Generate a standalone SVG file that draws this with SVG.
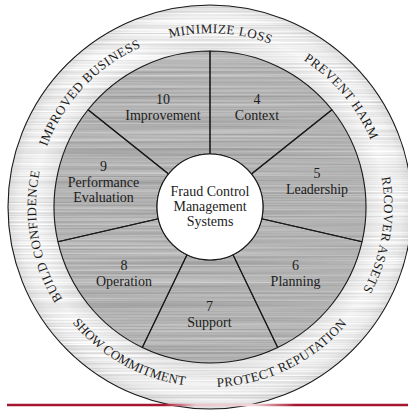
<svg xmlns="http://www.w3.org/2000/svg" xmlns:xlink="http://www.w3.org/1999/xlink" width="408" height="410" viewBox="0 0 408 410">
  <defs>
    <style>
      .edge { fill: none; stroke: #1a1a1a; stroke-width: 1.1; stroke-linejoin: round; }
      .label { font-family: "Liberation Serif", "Times New Roman", serif; font-size: 14px; fill: #1c1c1c; text-anchor: middle; }
      .ring-text { font-family: "Liberation Serif", "Times New Roman", serif; font-size: 13px; fill: #1c1c1c; letter-spacing: 0.5px; }
    </style>
    <!-- fine horizontal brushed-metal streaks laid over a fill -->
    <filter id="brushed" x="-5%" y="-5%" width="110%" height="110%" color-interpolation-filters="sRGB">
      <feTurbulence type="fractalNoise" baseFrequency="0.003 0.55" numOctaves="2" seed="5" result="noise"/>
      <feColorMatrix in="noise" type="matrix" values="1 0 0 0 0  1 0 0 0 0  1 0 0 0 0  0 0 0 0 1" result="grey"/>
      <feComposite in="SourceGraphic" in2="grey" operator="arithmetic" k1="0" k2="1" k3="0.28" k4="-0.14" result="mix"/>
      <feComposite in="mix" in2="SourceAlpha" operator="in"/>
    </filter>
    <radialGradient id="bandFill" gradientUnits="userSpaceOnUse" cx="210" cy="207" r="202">
      <stop offset="0.77" stop-color="#e2e2e2"/>
      <stop offset="0.87" stop-color="#f3f3f3"/>
      <stop offset="0.95" stop-color="#ebebeb"/>
      <stop offset="1" stop-color="#dcdcdc"/>
    </radialGradient>
    <linearGradient id="ruleFade" gradientUnits="userSpaceOnUse" x1="7" y1="0" x2="408" y2="0">
      <stop offset="0" stop-color="#a6162f"/>
      <stop offset="0.39" stop-color="#a6162f"/>
      <stop offset="0.47" stop-color="#ecc4cb"/>
      <stop offset="0.62" stop-color="#f2d4d9"/>
      <stop offset="0.72" stop-color="#a6162f"/>
      <stop offset="1" stop-color="#a6162f"/>
    </linearGradient>
    <!-- arcs carrying the outer ring wording (clockwise along the top, anticlockwise along the bottom) -->
    <path id="arcMinimize" d="M64.9,111.0 A174,174 0 0 1 365.7,129.4"/>
    <path id="arcPrevent" d="M179.8,35.6 A174,174 0 0 1 373.5,266.5"/>
    <path id="arcRecover" d="M320.7,72.7 A174,174 0 0 1 270.9,370.0"/>
    <path id="arcBuild" d="M150.5,370.5 A174,174 0 0 1 98.2,73.7"/>
    <path id="arcImproved" d="M43.2,256.4 A174,174 0 0 1 250.6,37.8"/>
    <path id="arcProtect" d="M109.3,356.2 A180,180 0 0 0 389.6,219.6"/>
    <path id="arcShow" d="M30.0,210.1 A180,180 0 0 0 302.7,361.3"/>
  </defs>

  <rect width="408" height="410" fill="#ffffff"/>

  <!-- outer band -->
  <g id="outer-band">
    <circle cx="210" cy="207" r="202" fill="url(#bandFill)" filter="url(#brushed)"/>
    <circle cx="210" cy="207" r="202" class="edge"/>
  </g>

  <!-- footer rule -->
  <line x1="7" y1="405" x2="408" y2="405" stroke="url(#ruleFade)" stroke-width="2.4"/>

  <!-- textured ring behind the seven segments -->
  <circle id="ring-base" cx="210" cy="207" r="156" fill="#b3b3b3" filter="url(#brushed)"/>

  <g id="node-context">
    <path class="edge" d="M210,154 L210,51 A156,156 0 0 1 331.96,109.73 L251.44,173.95 A53,53 0 0 0 210,154 Z"/>
    <text class="label" x="257" y="104">4</text>
    <text class="label" x="257" y="120">Context</text>
  </g>
  <g id="node-leadership">
    <path class="edge" d="M251.44,173.95 L331.96,109.73 A156,156 0 0 1 362.08,241.71 L261.67,218.79 A53,53 0 0 0 251.44,173.95 Z"/>
    <text class="label" x="317" y="177.5">5</text>
    <text class="label" x="317" y="193.5">Leadership</text>
  </g>
  <g id="node-planning">
    <path class="edge" d="M261.67,218.79 L362.08,241.71 A156,156 0 0 1 277.69,347.56 L233.0,254.75 A53,53 0 0 0 261.67,218.79 Z"/>
    <text class="label" x="295.5" y="270">6</text>
    <text class="label" x="295.5" y="286">Planning</text>
  </g>
  <g id="node-support">
    <path class="edge" d="M233.0,254.75 L277.69,347.56 A156,156 0 0 1 142.31,347.56 L187.0,254.75 A53,53 0 0 0 233.0,254.75 Z"/>
    <text class="label" x="209.5" y="311">7</text>
    <text class="label" x="209.5" y="327">Support</text>
  </g>
  <g id="node-operation">
    <path class="edge" d="M187.0,254.75 L142.31,347.56 A156,156 0 0 1 57.92,241.71 L158.33,218.79 A53,53 0 0 0 187.0,254.75 Z"/>
    <text class="label" x="124" y="269.5">8</text>
    <text class="label" x="124" y="285.5">Operation</text>
  </g>
  <g id="node-performance">
    <path class="edge" d="M158.33,218.79 L57.92,241.71 A156,156 0 0 1 88.04,109.73 L168.56,173.95 A53,53 0 0 0 158.33,218.79 Z"/>
    <text class="label" x="103.5" y="171">9</text>
    <text class="label" x="103.5" y="186.5">Performance</text>
    <text class="label" x="103.5" y="202">Evaluation</text>
  </g>
  <g id="node-improvement">
    <path class="edge" d="M168.56,173.95 L88.04,109.73 A156,156 0 0 1 210,51 L210,154 A53,53 0 0 0 168.56,173.95 Z"/>
    <text class="label" x="163" y="103.5">10</text>
    <text class="label" x="163" y="119.5">Improvement</text>
  </g>

  <g id="node-core">
    <circle cx="210" cy="207" r="53" fill="#ffffff" stroke="#1a1a1a" stroke-width="1.1"/>
    <text class="label" x="210" y="195.5">Fraud Control</text>
    <text class="label" x="210" y="210.5">Management</text>
    <text class="label" x="210" y="225.5">Systems</text>
  </g>

  <g id="outcomes" class="ring-text">
    <text><textPath href="#arcMinimize" startOffset="50%" text-anchor="middle">MINIMIZE LOSS</textPath></text>
    <text><textPath href="#arcPrevent" startOffset="50%" text-anchor="middle">PREVENT HARM</textPath></text>
    <text><textPath href="#arcRecover" startOffset="50%" text-anchor="middle">RECOVER ASSETS</textPath></text>
    <text><textPath href="#arcProtect" startOffset="50%" text-anchor="middle">PROTECT REPUTATION</textPath></text>
    <text letter-spacing="0"><textPath href="#arcShow" startOffset="50%" text-anchor="middle">SHOW COMMITMENT</textPath></text>
    <text><textPath href="#arcBuild" startOffset="50%" text-anchor="middle">BUILD CONFIDENCE</textPath></text>
    <text><textPath href="#arcImproved" startOffset="50%" text-anchor="middle">IMPROVED BUSINESS</textPath></text>
  </g>
</svg>
